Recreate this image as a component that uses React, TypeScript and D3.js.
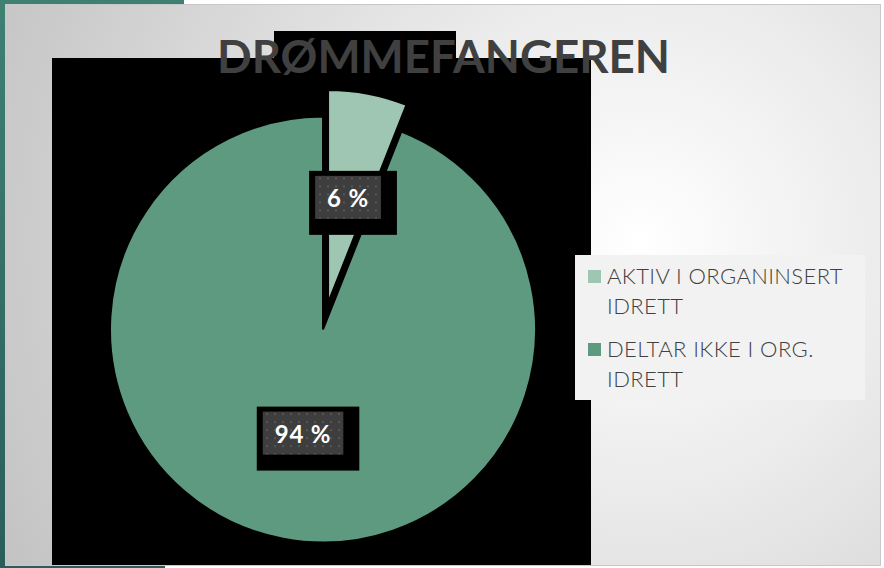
import React, { useEffect, useRef } from "react";
import * as d3 from "d3";

const title = "DRØMMEFANGEREN";
const categories = ["AKTIV I ORGANINSERT IDRETT", "DELTAR IKKE I ORG. IDRETT"];
const legendLines = [["AKTIV I ORGANINSERT", "IDRETT"], ["DELTAR IKKE I ORG.", "IDRETT"]];
const values = [6, 94];
const valueLabels = ["6 %", "94 %"];
const colors = ["#9fc6b2", "#5e9a7f"];

export default function App() {
  const ref = useRef<SVGSVGElement | null>(null);

  useEffect(() => {
    const svg = d3.select(ref.current);
    svg.selectAll("*").remove();
    const W = 884, H = 568;
    const defs = svg.append("defs");

    const bg = defs.append("radialGradient").attr("id", "bg")
      .attr("gradientUnits", "userSpaceOnUse")
      .attr("cx", 640).attr("cy", 240).attr("r", 700);
    bg.append("stop").attr("offset", "0").attr("stop-color", "#ffffff");
    bg.append("stop").attr("offset", "0.35").attr("stop-color", "#ececec");
    bg.append("stop").attr("offset", "1").attr("stop-color", "#c4c4c4");

    const teal = defs.append("linearGradient").attr("id", "teal")
      .attr("x1", 0).attr("y1", 0).attr("x2", 0).attr("y2", 1);
    teal.append("stop").attr("offset", "0").attr("stop-color", "#3f8072");
    teal.append("stop").attr("offset", "1").attr("stop-color", "#2a5e5a");

    const pat = defs.append("pattern").attr("id", "dots")
      .attr("patternUnits", "userSpaceOnUse").attr("width", 8).attr("height", 8);
    pat.append("rect").attr("width", 8).attr("height", 8).attr("fill", "#3e3e3e");
    pat.append("rect").attr("x", 3).attr("y", 3).attr("width", 2).attr("height", 2).attr("fill", "#565656");

    // page frame
    svg.append("rect").attr("width", W).attr("height", H).attr("fill", "#ffffff");
    svg.append("rect").attr("x", 0).attr("y", 0).attr("width", 184).attr("height", 5).attr("fill", "#3f8072");
    svg.append("rect").attr("x", 0).attr("y", 0).attr("width", 5).attr("height", H).attr("fill", "url(#teal)");
    svg.append("rect").attr("x", 0).attr("y", 565).attr("width", 165).attr("height", 3).attr("fill", "#2a5e5a");
    svg.append("rect").attr("x", 5).attr("y", 4).attr("width", 876).attr("height", 562)
      .attr("fill", "#c8c8c8");
    svg.append("rect").attr("x", 6).attr("y", 5).attr("width", 874).attr("height", 560)
      .attr("fill", "url(#bg)");

    // black plot areas
    svg.append("rect").attr("x", 52).attr("y", 58).attr("width", 539).attr("height", 507).attr("fill", "#000");
    svg.append("rect").attr("x", 274).attr("y", 31).attr("width", 182).attr("height", 28).attr("fill", "#000");

    // title
    svg.append("text").attr("x", 217).attr("y", 73)
      .attr("textLength", 453).attr("lengthAdjust", "spacingAndGlyphs")
      .attr("font-family", "Lato, 'Open Sans', sans-serif").attr("font-weight", 700)
      .attr("font-size", 46).attr("fill", "#404040").text(title);

    // pie
    const cx = 323, cy = 329.5, R = 213, explode = 27;
    const pie = d3.pie<number>().sort(null).startAngle(0).endAngle(2 * Math.PI);
    const arcs = pie(values);
    const arc = d3.arc<d3.PieArcDatum<number>>().innerRadius(0).outerRadius(R);
    const g = svg.append("g").attr("transform", `translate(${cx},${cy})`);
    const offs = arcs.map((a, i) => {
      if (i !== 0) return [0, 0];
      const m = (a.startAngle + a.endAngle) / 2;
      return [Math.sin(m) * explode, -Math.cos(m) * explode];
    });
    g.selectAll("path.slice").data(arcs).enter().append("path")
      .attr("class", "slice")
      .attr("transform", (d, i) => `translate(${offs[i][0]},${offs[i][1]})`)
      .attr("d", arc as any)
      .attr("fill", (d, i) => colors[i])
      .attr("stroke", "#000").attr("stroke-width", 2).attr("stroke-linejoin", "miter");

    // data labels
    arcs.forEach((a, i) => {
      const c = arc.centroid(a);
      const x = c[0] + offs[i][0], y = c[1] + offs[i][1];
      const lg = g.append("g").attr("transform", `translate(${x},${y})`);
      const outer = lg.append("rect").attr("fill", "#000");
      const inner = lg.append("rect").attr("fill", "url(#dots)");
      const t = lg.append("text").attr("text-anchor", "middle").attr("dy", "0.35em")
        .attr("font-family", "Lato, 'Open Sans', sans-serif").attr("font-weight", 700)
        .attr("font-size", 24).attr("letter-spacing", 0.8).attr("fill", "#ffffff").text(valueLabels[i]);
      const bb = (t.node() as SVGTextElement).getBBox();
      const iw = bb.width + 24, ih = 43;
      inner.attr("x", -iw / 2).attr("y", -ih / 2 - 1).attr("width", iw).attr("height", ih);
      outer.attr("x", -iw / 2 - 6).attr("y", -ih / 2 - 6).attr("width", iw + 22).attr("height", ih + 21);
    });

    // legend
    svg.append("rect").attr("x", 575).attr("y", 255).attr("width", 290).attr("height", 145).attr("fill", "#f2f2f2");
    const lineH = 30;
    const itemY = [284, 357];
    categories.forEach((cat, i) => {
      const lg = svg.append("g").attr("aria-label", cat);
      lg.append("rect").attr("x", 588).attr("y", itemY[i] - 14).attr("width", 13).attr("height", 13).attr("fill", colors[i]);
      legendLines[i].forEach((ln, j) => {
        lg.append("text").attr("x", 607).attr("y", itemY[i] + j * lineH)
          .attr("font-family", "Lato, 'Open Sans', sans-serif").attr("font-weight", 300)
          .attr("font-size", 22).attr("letter-spacing", 0.4).attr("fill", "#404040").text(ln);
      });
    });
  }, []);

  return (
    <svg ref={ref} width={884} height={568}
      style={{ position: "absolute", left: 0, top: 0, display: "block" }} />
  );
}
